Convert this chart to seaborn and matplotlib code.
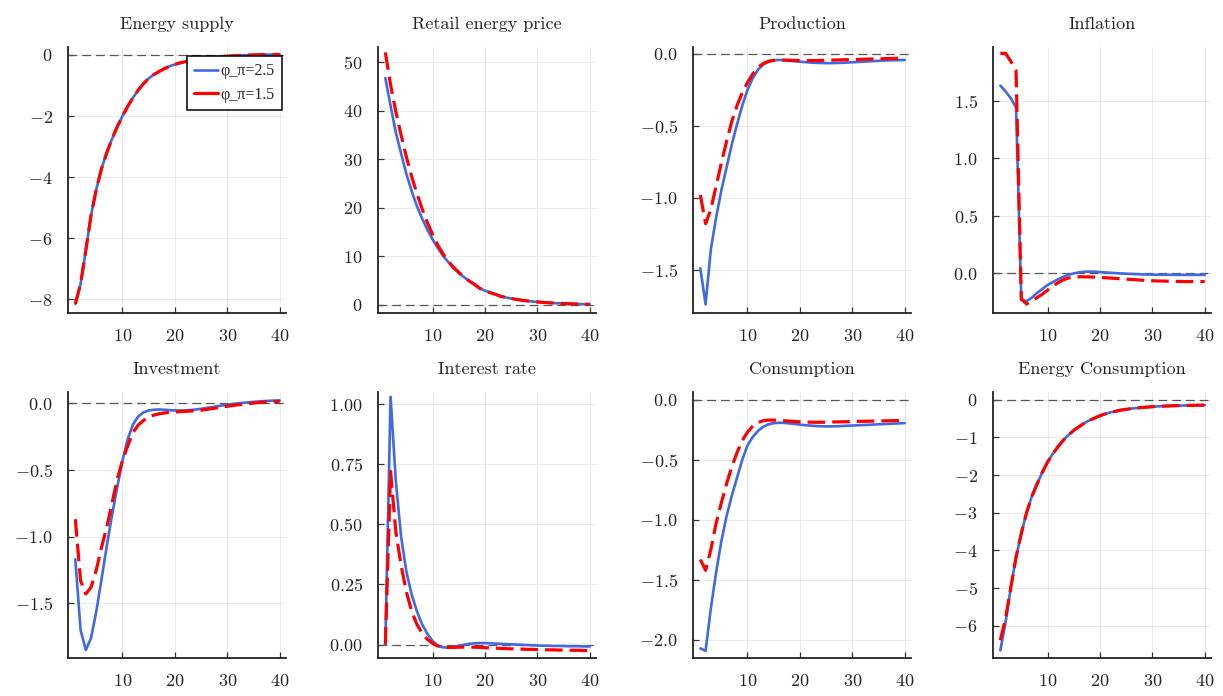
import matplotlib
matplotlib.use('Agg')
import matplotlib.pyplot as plt
import seaborn as sns

# impulse responses, periods 1..40
periods = list(range(1, 41))

energy_supply_25 = [-8.15, -7.5, -6.4, -5.25, -4.4, -3.72, -3.2, -2.75, -2.35, -2.0,
                    -1.68, -1.4, -1.15, -0.94, -0.77, -0.64, -0.54, -0.45, -0.37, -0.31,
                    -0.26, -0.22, -0.18, -0.15, -0.12, -0.1, -0.08, -0.065, -0.05, -0.04,
                    -0.03, -0.02, -0.012, -0.005, 0.0, 0.005, 0.01, 0.012, 0.015, 0.015]
energy_supply_15 = [-8.15, -7.5, -6.4, -5.25, -4.4, -3.72, -3.2, -2.75, -2.35, -2.0,
                    -1.68, -1.4, -1.15, -0.94, -0.77, -0.64, -0.54, -0.45, -0.37, -0.31,
                    -0.26, -0.22, -0.18, -0.15, -0.12, -0.1, -0.08, -0.065, -0.05, -0.04,
                    -0.03, -0.02, -0.012, -0.005, 0.0, 0.005, 0.01, 0.012, 0.015, 0.015]

price_25 = [46.7, 41.0, 35.5, 31.2, 27.0, 23.5, 20.4, 17.8, 15.5, 13.5,
            11.7, 10.1, 8.8, 7.6, 6.6, 5.7, 4.9, 4.2, 3.4, 2.9,
            2.5, 2.15, 1.75, 1.5, 1.28, 1.1, 0.93, 0.8, 0.68, 0.58,
            0.5, 0.42, 0.35, 0.3, 0.25, 0.2, 0.17, 0.14, 0.12, 0.1]
price_15 = [52.0, 45.3, 39.8, 35.0, 30.5, 26.5, 23.0, 19.8, 17.0, 14.5,
            12.3, 10.5, 9.0, 7.7, 6.7, 5.7, 4.9, 4.2, 3.4, 2.9,
            2.5, 2.15, 1.75, 1.5, 1.28, 1.1, 0.93, 0.8, 0.68, 0.58,
            0.5, 0.42, 0.35, 0.3, 0.25, 0.2, 0.17, 0.14, 0.12, 0.1]

production_25 = [-1.49, -1.74, -1.36, -1.14, -0.95, -0.79, -0.63, -0.49, -0.36, -0.25,
                 -0.17, -0.11, -0.075, -0.055, -0.045, -0.043, -0.045, -0.048, -0.052, -0.055,
                 -0.058, -0.061, -0.063, -0.064, -0.065, -0.065, -0.064, -0.063, -0.061, -0.059,
                 -0.057, -0.055, -0.053, -0.051, -0.049, -0.047, -0.046, -0.045, -0.044, -0.043]
production_15 = [-0.98, -1.18, -1.08, -0.92, -0.76, -0.61, -0.47, -0.36, -0.27, -0.2,
                 -0.14, -0.095, -0.068, -0.052, -0.046, -0.044, -0.044, -0.045, -0.046, -0.047,
                 -0.047, -0.047, -0.047, -0.046, -0.045, -0.044, -0.043, -0.042, -0.041, -0.04,
                 -0.039, -0.038, -0.037, -0.036, -0.035, -0.034, -0.033, -0.032, -0.031, -0.03]

inflation_25 = [1.63, 1.58, 1.52, 1.44, -0.23, -0.24, -0.21, -0.17, -0.135, -0.1,
                -0.075, -0.05, -0.03, -0.012, 0.0, 0.01, 0.015, 0.016, 0.015, 0.012,
                0.009, 0.006, 0.003, 0.0, -0.002, -0.004, -0.006, -0.008, -0.009, -0.01,
                -0.011, -0.011, -0.011, -0.012, -0.012, -0.012, -0.012, -0.012, -0.012, -0.012]
inflation_15 = [1.91, 1.91, 1.84, 1.76, -0.22, -0.265, -0.24, -0.21, -0.18, -0.145,
                -0.11, -0.08, -0.055, -0.04, -0.032, -0.029, -0.029, -0.03, -0.032, -0.034,
                -0.037, -0.04, -0.043, -0.046, -0.049, -0.052, -0.055, -0.058, -0.061, -0.063,
                -0.065, -0.066, -0.067, -0.068, -0.069, -0.07, -0.07, -0.07, -0.07, -0.07]

investment_25 = [-1.17, -1.70, -1.85, -1.76, -1.56, -1.32, -1.07, -0.84, -0.63, -0.43,
                 -0.27, -0.16, -0.1, -0.07, -0.055, -0.05, -0.048, -0.05, -0.053, -0.055,
                 -0.055, -0.054, -0.052, -0.048, -0.043, -0.037, -0.031, -0.025, -0.018, -0.012,
                 -0.007, -0.002, 0.002, 0.006, 0.009, 0.012, 0.015, 0.017, 0.019, 0.02]
investment_15 = [-0.87, -1.33, -1.43, -1.38, -1.25, -1.08, -0.93, -0.75, -0.57, -0.43,
                 -0.32, -0.22, -0.165, -0.13, -0.105, -0.09, -0.08, -0.074, -0.07, -0.067,
                 -0.064, -0.062, -0.06, -0.057, -0.053, -0.048, -0.042, -0.036, -0.03, -0.024,
                 -0.018, -0.013, -0.008, -0.004, 0.0, 0.004, 0.007, 0.009, 0.011, 0.012]

interest_25 = [0.0, 1.03, 0.68, 0.45, 0.305, 0.21, 0.14, 0.085, 0.045, 0.015,
               -0.005, -0.012, -0.012, -0.009, -0.005, -0.001, 0.003, 0.005, 0.006, 0.006,
               0.005, 0.004, 0.003, 0.002, 0.001, 0.0, -0.001, -0.002, -0.003, -0.004,
               -0.005, -0.005, -0.006, -0.006, -0.006, -0.007, -0.007, -0.007, -0.008, -0.008]
interest_15 = [0.0, 0.72, 0.47, 0.33, 0.22, 0.14, 0.085, 0.048, 0.022, 0.005,
               -0.006, -0.011, -0.012, -0.012, -0.011, -0.011, -0.011, -0.011, -0.012, -0.013,
               -0.014, -0.015, -0.016, -0.017, -0.018, -0.019, -0.019, -0.02, -0.02, -0.021,
               -0.021, -0.022, -0.022, -0.023, -0.023, -0.024, -0.024, -0.024, -0.025, -0.025]

consumption_25 = [-2.07, -2.09, -1.74, -1.44, -1.18, -0.97, -0.80, -0.65, -0.5, -0.38,
                  -0.31, -0.26, -0.225, -0.205, -0.195, -0.192, -0.193, -0.197, -0.202, -0.207,
                  -0.212, -0.216, -0.219, -0.221, -0.222, -0.222, -0.221, -0.219, -0.217, -0.215,
                  -0.213, -0.211, -0.209, -0.207, -0.205, -0.203, -0.201, -0.199, -0.197, -0.195]
consumption_15 = [-1.33, -1.42, -1.25, -1.03, -0.86, -0.7, -0.56, -0.44, -0.34, -0.27,
                  -0.22, -0.19, -0.175, -0.17, -0.17, -0.172, -0.175, -0.178, -0.181, -0.184,
                  -0.186, -0.187, -0.188, -0.188, -0.187, -0.186, -0.185, -0.184, -0.183, -0.182,
                  -0.181, -0.18, -0.179, -0.178, -0.177, -0.176, -0.175, -0.174, -0.173, -0.172]

energy_cons_25 = [-6.65, -5.9, -4.98, -4.18, -3.55, -3.0, -2.57, -2.24, -1.93, -1.66,
                  -1.44, -1.25, -1.08, -0.94, -0.82, -0.72, -0.63, -0.55, -0.49, -0.43,
                  -0.38, -0.34, -0.31, -0.28, -0.26, -0.24, -0.225, -0.21, -0.2, -0.19,
                  -0.182, -0.175, -0.17, -0.165, -0.161, -0.158, -0.155, -0.152, -0.15, -0.148]
energy_cons_15 = [-6.38, -5.8, -4.98, -4.18, -3.55, -3.0, -2.57, -2.24, -1.93, -1.66,
                  -1.44, -1.25, -1.08, -0.94, -0.82, -0.72, -0.63, -0.55, -0.49, -0.43,
                  -0.38, -0.34, -0.31, -0.28, -0.26, -0.24, -0.225, -0.21, -0.2, -0.19,
                  -0.182, -0.175, -0.17, -0.165, -0.161, -0.158, -0.155, -0.152, -0.15, -0.148]

titles = ['Energy supply', 'Retail energy price', 'Production', 'Inflation',
          'Investment', 'Interest rate', 'Consumption', 'Energy Consumption']
series_25 = [energy_supply_25, price_25, production_25, inflation_25,
             investment_25, interest_25, consumption_25, energy_cons_25]
series_15 = [energy_supply_15, price_15, production_15, inflation_15,
             investment_15, interest_15, consumption_15, energy_cons_15]
label_25 = 'φ_π=2.5'
label_15 = 'φ_π=1.5'
xticks = [10, 20, 30, 40]

# axis ranges / ticks per panel
ylims = [(-8.45, 0.26), (-1.7, 53.1), (-1.80, 0.047), (-0.343, 1.965),
         (-1.91, 0.083), (-0.056, 1.05), (-2.15, 0.064), (-6.85, 0.2)]
yticks = [[-8, -6, -4, -2, 0], [0, 10, 20, 30, 40, 50], [-1.5, -1.0, -0.5, 0.0],
          [0.0, 0.5, 1.0, 1.5], [-1.5, -1.0, -0.5, 0.0], [0.0, 0.25, 0.5, 0.75, 1.0],
          [-2.0, -1.5, -1.0, -0.5, 0.0], [-6, -5, -4, -3, -2, -1, 0]]

sns.set_theme(style='ticks')
plt.rcParams['font.family'] = ['cmr10', 'DejaVu Serif']
plt.rcParams['mathtext.fontset'] = 'cm'
plt.rcParams['axes.formatter.use_mathtext'] = True

W, H = 1223, 696
fig = plt.figure(figsize=(W / 100, H / 100), dpi=100)
lefts = [68, 378, 693, 993]
tops = [47, 392]
aw, ah = 218, 266

BLUE = '#4169e1'
RED = '#ff0000'

for i, title in enumerate(titles):
    r, c = divmod(i, 4)
    ax = fig.add_axes([lefts[c] / W, 1 - (tops[r] + ah) / H, aw / W, ah / H])
    ax.axhline(0, color='#555555', lw=0.9, ls=(0, (7, 4)), zorder=1)
    sns.lineplot(x=periods, y=series_25[i], ax=ax, color=BLUE, lw=1.9,
                 label=label_25 if i == 0 else None, legend=False, zorder=3)
    sns.lineplot(x=periods, y=series_15[i], ax=ax, color=RED, lw=2.3,
                 linestyle=(0, (5.5, 2.2)),
                 label=label_15 if i == 0 else None, legend=False, zorder=4)
    ax.set_xlim(-0.4, 41.2)
    ax.set_ylim(*ylims[i])
    ax.set_xticks(xticks)
    ax.set_yticks(yticks[i])
    ax.set_title(title, fontsize=13, pad=13, color='#222222')
    ax.grid(True, color='#e9e9e9', lw=0.7)
    ax.set_axisbelow(True)
    sns.despine(ax=ax)
    for s in ['left', 'bottom']:
        ax.spines[s].set_color('#222222')
        ax.spines[s].set_linewidth(1.3)
    ax.tick_params(direction='in', length=4, width=0.9, color='#333333',
                   labelsize=13, labelcolor='#222222', pad=11)
    ax.set_xlabel('')
    ax.set_ylabel('')
    if i == 0:
        leg = ax.legend(loc='upper right', bbox_to_anchor=(0.98, 0.965),
                        borderaxespad=0, fancybox=False, framealpha=1,
                        edgecolor='black', handlelength=1.5, handletextpad=0.15,
                        borderpad=0.45, labelspacing=0.45,
                        prop={'family': ['Liberation Serif'], 'size': 11.5})
        leg.get_frame().set_linewidth(1.1)
        for h in leg.get_lines():
            h.set_linestyle('-')

fig.savefig('out.png', dpi=100)
